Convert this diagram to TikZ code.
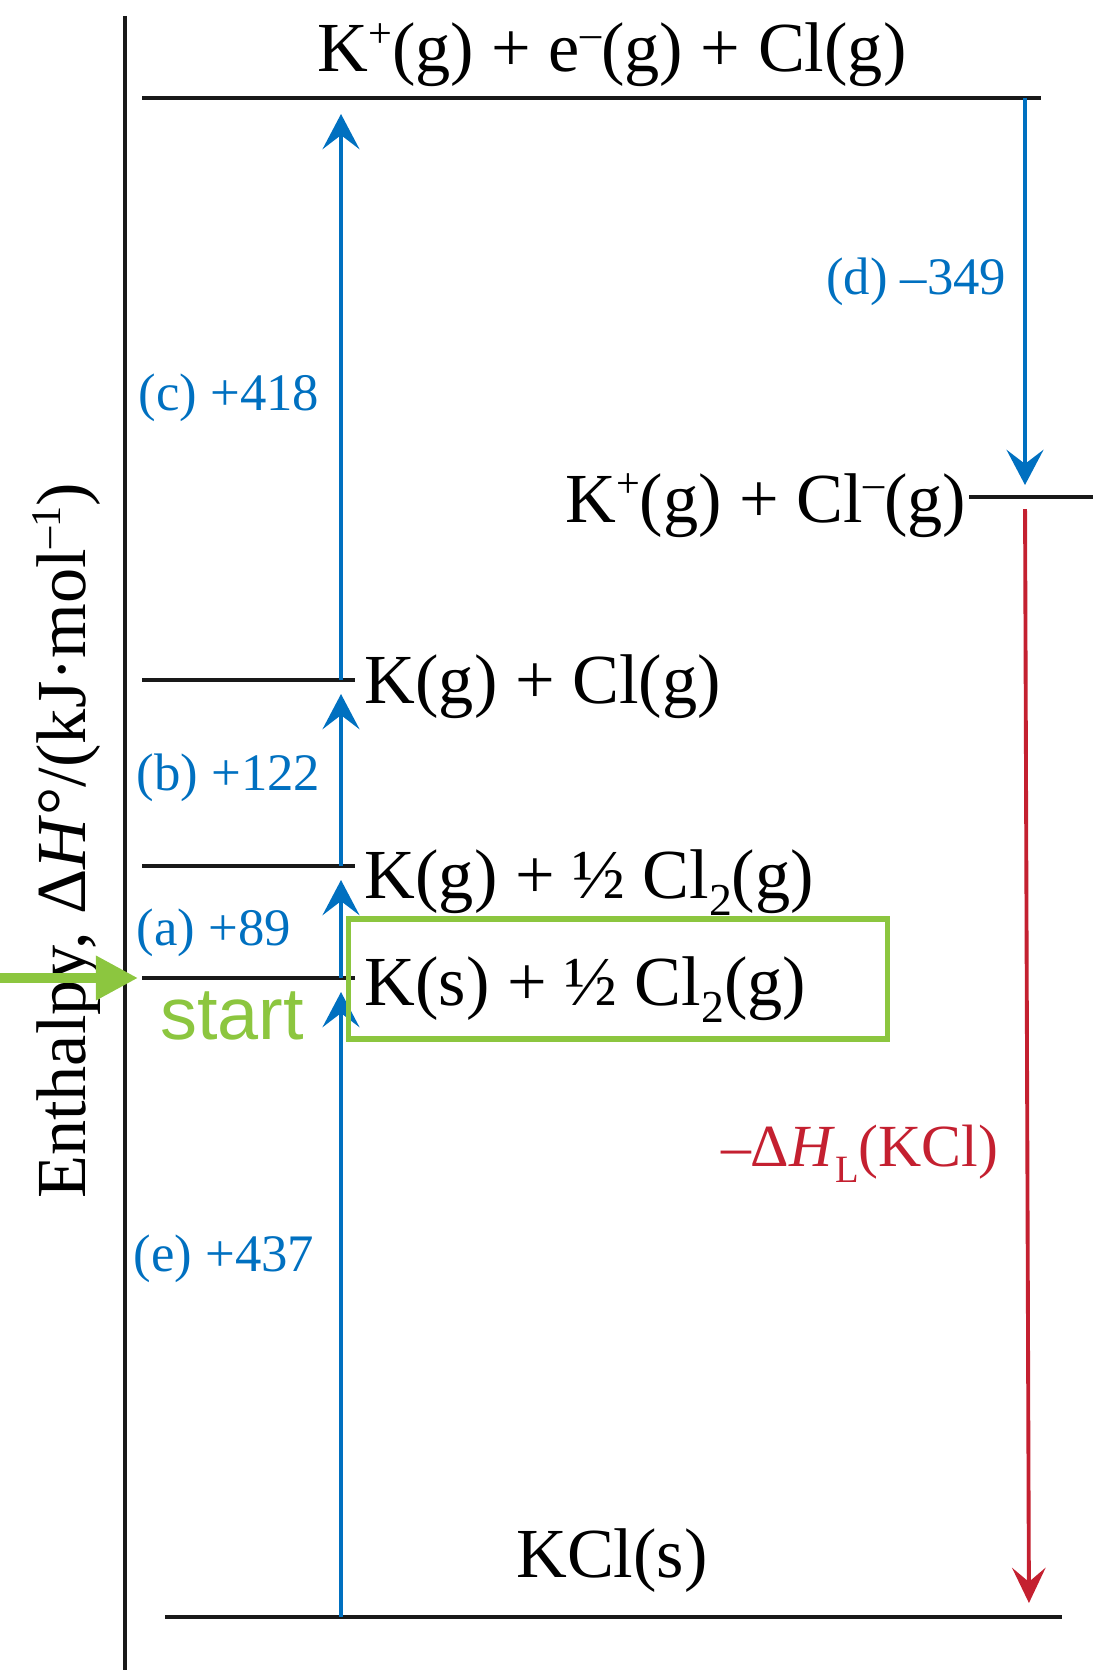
\documentclass[tikz,border=0pt]{standalone}
\usepackage{fontspec}
\setmainfont{Liberation Serif}
\newfontfamily\startfont{Liberation Sans}
\usetikzlibrary{arrows.meta}
\definecolor{stepblue}{RGB}{0,112,192}
\definecolor{latred}{RGB}{196,32,48}
\definecolor{startgreen}{RGB}{140,198,63}
\newcommand\chsup[1]{\raisebox{0.75ex}{\fontsize{12}{13}\selectfont #1}}
\newcommand\chsub[1]{\raisebox{-0.55ex}{\fontsize{13}{14}\selectfont #1}}

\begin{document}
\begin{tikzpicture}[
    x=0.01cm, y=-0.01cm,
    level/.style={line width=1.2pt, black!90},
    species/.style={font=\fontsize{20}{24}\selectfont, inner sep=0pt},
    steplbl/.style={font=\fontsize{15}{18}\selectfont, text=stepblue, inner sep=0pt},
    uparrow/.style={-{Stealth[length=10pt, width=10.5pt, inset=4pt]},
                    stepblue, line width=1.1pt},
    latarrow/.style={-{Stealth[length=10pt, width=9.5pt, inset=4pt]},
                     latred, line width=1.1pt},
    startbox/.style={draw=startgreen, line width=1.5pt, rectangle,
                     minimum width=5.38cm, minimum height=1.2cm, inner sep=0pt},
    startarrow/.style={-{Triangle[length=12pt, width=12pt]},
                       startgreen, line width=2.8pt}
]
\useasboundingbox (0,0) rectangle (1093,1670);
% Axis
\coordinate (axis_top) at (125,16);
\coordinate (axis_bot) at (125,1670);
\draw[line width=0.9pt, black!90] (axis_top) -- (axis_bot);
\node[species, rotate=90, anchor=base] (lbl_axis) at (85,841)
      {Enthalpy, Δ\textit{H}°/(kJ·mol\chsup{–1})};
% Levels
\coordinate (top_l) at (142,98);   \coordinate (top_r) at (1041,98);
\coordinate (ion_l) at (969,497);  \coordinate (ion_r) at (1093,497);
\coordinate (kgcl_l) at (142,680); \coordinate (kgcl_r) at (355,680);
\coordinate (kgh_l) at (142,866);  \coordinate (kgh_r) at (355,866);
\coordinate (ks_l) at (142,978);   \coordinate (ks_r) at (355,978);
\coordinate (kcl_l) at (165,1617); \coordinate (kcl_r) at (1062,1617);
\draw[level] (top_l) -- (top_r);
\draw[level] (ion_l) -- (ion_r);
\draw[level] (kgcl_l) -- (kgcl_r);
\draw[level] (kgh_l) -- (kgh_r);
\draw[level] (ks_l) -- (ks_r);
\draw[level] (kcl_l) -- (kcl_r);
\node[species, anchor=base] (lbl_top) at (612,72)
      {K\chsup{+}(g) + e\chsup{–}(g) + Cl(g)};
\node[species, anchor=base east] (lbl_ion) at (967,522)
      {K\chsup{+}(g) + Cl\chsup{–}(g)};
\node[species, anchor=base west] (lbl_kgcl) at (364,703) {K(g) + Cl(g)};
\node[species, anchor=base west] (lbl_kgh) at (364,898)
      {K(g) + ½ Cl\chsub{2}(g)};
\node[species, anchor=base west] (lbl_ks) at (364,1005)
      {K(s) + ½ Cl\chsub{2}(g)};
\node[species, anchor=base] (lbl_kcl) at (612,1577) {KCl(s)};
% Steps up (blue)
\coordinate (e_0) at (341,1617);
\coordinate (e_1) at (341,978);
\coordinate (a_1) at (341,866);
\coordinate (b_1) at (341,680);
\coordinate (c_1) at (341,98);
\draw[uparrow, shorten >=0.14cm] (e_0) -- (e_1);
\draw[uparrow, shorten >=0.14cm] (e_1) -- (a_1);
\draw[uparrow, shorten >=0.14cm] (a_1) -- (b_1);
\draw[uparrow, shorten >=0.16cm] (b_1) -- (c_1);
\node[steplbl, anchor=base west] (lbl_c) at (138,410) {(c) +418};
\node[steplbl, anchor=base west] (lbl_b) at (136,790) {(b) +122};
\node[steplbl, anchor=base west] (lbl_a) at (136,945) {(a) +89};
\node[steplbl, anchor=base west] (lbl_e) at (133,1271) {(e) +437};
% Right — electron affinity and lattice
\coordinate (d_0) at (1025,98);
\coordinate (d_1) at (1025,497);
\draw[uparrow, shorten >=0.12cm] (d_0) -- (d_1);
\node[steplbl, anchor=base east] (lbl_d) at (1007,295) {(d) –349};
\coordinate (lat_0) at (1025,497);
\coordinate (lat_1) at (1029,1617);
\draw[latarrow, shorten <=0.12cm, shorten >=0.14cm] (lat_0) -- (lat_1);
\node[anchor=base east, inner sep=0pt, text=latred,
      font=\fontsize{17}{20}\selectfont] (lbl_lat) at (999,1166)
      {–Δ\textit{H}\raisebox{-0.6ex}{\fontsize{11}{12}\selectfont L}(KCl)};
% Start marker
\node[startbox] (ks_box) at (618,979) {};
\coordinate (start_in) at (0,978);
\draw[startarrow, shorten >=0.04cm] (start_in) -- (ks_l);
\node[anchor=base, inner sep=0pt, text=startgreen,
      font=\startfont\fontsize{21}{25}\selectfont] (lbl_start) at (232,1039) {start};
\end{tikzpicture}
\end{document}
